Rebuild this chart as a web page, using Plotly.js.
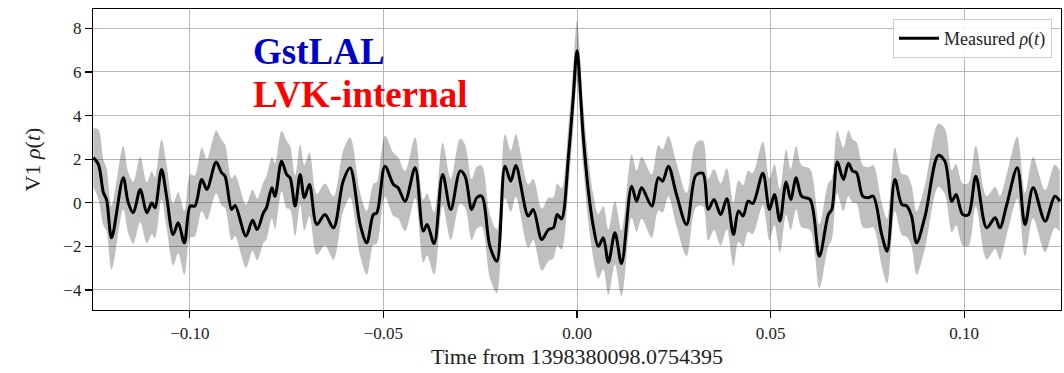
<!DOCTYPE html>
<html>
<head>
<meta charset="utf-8">
<script src="https://cdn.plot.ly/plotly-3.0.1.min.js"></script>
<style>html,body{margin:0;padding:0;background:#fff;}#chart{width:1064px;height:373px;}</style>
</head>
<body>
<div id="chart"></div>
<script>
// Time from 1398380098.0754395 (s)
const timeOffsets = [
-0.1249,-0.1236,-0.1223,-0.1215,-0.1202,-0.1172,-0.1159,-0.1146,-0.1128,-0.1111,
-0.1098,-0.1090,-0.1073,-0.1060,-0.1043,-0.1030,-0.1014,-0.0999,-0.0987,-0.0969,
-0.0956,-0.0932,-0.0918,-0.0909,-0.0892,-0.0883,-0.0855,-0.0838,-0.0826,-0.0810,
-0.0802,-0.0788,-0.0780,-0.0763,-0.0750,-0.0741,-0.0728,-0.0715,-0.0704,-0.0691,
-0.0672,-0.0651,-0.0629,-0.0604,-0.0586,-0.0560,-0.0543,-0.0526,-0.0517,-0.0496,
-0.0474,-0.0462,-0.0444,-0.0418,-0.0397,-0.0387,-0.0369,-0.0347,-0.0326,-0.0302,
-0.0289,-0.0272,-0.0259,-0.0246,-0.0225,-0.0207,-0.0186,-0.0171,-0.0158,-0.0126,
-0.0113,-0.0091,-0.0074,-0.0061,-0.0051,-0.0040,-0.0022,-0.0010,0.0000,0.0016,
0.0029,0.0042,0.0055,0.0068,0.0081,0.0098,0.0115,0.0141,0.0154,0.0167,
0.0193,0.0210,0.0221,0.0236,0.0257,0.0283,0.0307,0.0325,0.0339,0.0354,
0.0371,0.0387,0.0404,0.0417,0.0429,0.0442,0.0454,0.0480,0.0497,0.0510,
0.0524,0.0540,0.0552,0.0566,0.0580,0.0602,0.0626,0.0649,0.0658,0.0672,
0.0688,0.0701,0.0712,0.0722,0.0738,0.0752,0.0765,0.0787,0.0801,0.0821,
0.0839,0.0852,0.0864,0.0877,0.0899,0.0933,0.0950,0.0968,0.0979,0.0996,
0.1011,0.1030,0.1058,0.1080,0.1092,0.1110,0.1137,0.1157,0.1178,0.1209,
0.1234,0.1247
];
// Measured rho(t)
const measuredRho = [
2.07,1.76,0.46,0.15,-1.61,1.15,0.00,-0.46,0.61,-0.46,
0.00,-0.23,1.53,0.30,-1.46,-0.92,-1.84,-0.15,-0.15,1.07,
0.61,1.87,1.38,1.22,-0.31,-0.12,-1.53,-0.80,-1.23,-0.46,
-0.23,0.69,0.30,1.91,1.30,1.15,-0.15,1.30,0.23,0.84,
-1.00,-0.54,-1.15,0.99,1.61,-1.00,-1.84,-0.54,-0.46,1.68,
0.84,0.69,0.07,1.61,-1.30,-1.00,-1.87,1.30,-0.31,1.45,
1.22,-0.31,0.23,0.30,-2.00,-2.68,1.68,0.99,1.71,-0.61,
-0.31,-1.69,-1.23,-1.15,-0.54,-0.74,2.14,4.75,6.97,3.06,
0.61,-1.07,-2.00,-1.61,-2.73,-1.38,-2.79,0.76,0.07,0.69,
-0.15,1.15,0.99,1.68,0.38,-1.00,1.26,1.35,-0.31,0.15,
-0.54,0.18,-1.46,-0.38,-0.61,0.07,-0.03,1.35,-0.31,0.38,
-0.84,0.95,0.15,1.15,0.30,0.15,-2.45,-0.54,-0.31,1.87,
1.07,1.81,1.45,1.38,0.30,0.23,0.30,-1.46,-2.22,1.07,
-0.08,-0.15,-0.61,-1.84,-0.61,2.17,1.91,0.07,0.38,-0.54,
-0.54,1.22,-1.15,-0.69,-1.15,-0.08,1.61,-1.00,0.69,-0.84,
0.30,0.07
];
// half-width of the grey uncertainty band
const bandHalfWidth = [
1.35,1.60,1.50,1.45,1.46,1.45,1.40,1.42,1.50,1.40,
1.45,1.40,1.38,1.45,1.42,1.40,1.46,1.45,1.40,1.45,
1.40,1.43,1.50,1.45,1.42,1.40,1.45,1.40,1.42,1.40,
1.45,1.40,1.50,1.38,1.55,1.45,1.40,1.38,1.50,1.45,
1.40,1.42,1.45,1.40,1.38,1.45,1.46,1.40,1.42,1.40,
1.45,1.40,1.38,1.40,1.45,1.42,1.43,1.45,1.40,1.50,
1.45,1.40,1.42,1.40,1.45,1.46,1.46,1.40,1.43,1.45,
1.40,1.42,1.45,1.40,1.42,1.40,1.40,1.40,1.38,1.42,
1.45,1.45,1.48,1.45,1.50,1.45,1.50,1.45,1.40,1.42,
1.45,1.50,1.45,1.38,1.45,1.45,1.48,1.50,1.42,1.40,
1.42,1.40,1.45,1.40,1.42,1.40,1.40,1.45,1.42,1.40,
1.45,1.50,1.40,1.45,1.42,1.40,1.46,1.45,1.40,1.43,
1.45,1.50,1.45,1.40,1.42,1.40,1.42,1.45,1.48,1.45,
1.40,1.42,1.40,1.46,1.45,1.45,1.50,1.42,1.40,1.42,
1.45,1.40,1.45,1.42,1.45,1.40,1.43,1.45,1.40,1.42,
1.45,1.40
];
const xTickVals = [-0.10, -0.05, 0.00, 0.05, 0.10];
const xTickText = ['\u22120.10', '\u22120.05', '0.00', '0.05', '0.10'];
const yTickVals = [-4, -2, 0, 2, 4, 6, 8];
const yTickText = ['\u22124', '\u22122', '0', '2', '4', '6', '8'];

const lower = measuredRho.map((v, i) => v - bandHalfWidth[i]);
const upper = measuredRho.map((v, i) => v + bandHalfWidth[i]);

const serif = 'Liberation Serif, Times New Roman, serif';
const smooth = 0.9;

const traces = [
  {x: timeOffsets, y: lower, type: 'scatter', mode: 'lines',
   line: {width: 0, shape: 'spline', smoothing: smooth}, showlegend: false, hoverinfo: 'skip'},
  {x: timeOffsets, y: upper, type: 'scatter', mode: 'lines', fill: 'tonexty',
   fillcolor: 'rgba(0,0,0,0.25)',
   line: {width: 0, shape: 'spline', smoothing: smooth}, showlegend: false, hoverinfo: 'skip'},
  {x: timeOffsets, y: measuredRho, type: 'scatter', mode: 'lines',
   name: 'Measured <i>\u03c1</i>(<i>t</i>)',
   line: {color: '#000000', width: 3, shape: 'spline', smoothing: smooth}}
];

const axisCommon = {
  showline: true, linecolor: '#000', linewidth: 1.2, mirror: true,
  ticks: 'outside', ticklen: 7, tickwidth: 1.1, tickcolor: '#000',
  showgrid: true, gridcolor: '#b8b8b8', gridwidth: 1, zeroline: false,
  tickfont: {family: serif, size: 17, color: '#222'}
};

const layout = {
  width: 1064, height: 373,
  margin: {l: 93, r: 3, t: 9, b: 63},
  paper_bgcolor: '#fff', plot_bgcolor: '#fff',
  xaxis: Object.assign({}, axisCommon, {
    range: [-0.125, 0.125], tickmode: 'array', tickvals: xTickVals, ticktext: xTickText,
    title: {text: 'Time from 1398380098.0754395', font: {family: serif, size: 22, color: '#222'}, standoff: 7}
  }),
  yaxis: Object.assign({}, axisCommon, {
    range: [-4.92, 8.89], tickmode: 'array', tickvals: yTickVals, ticktext: yTickText,
    title: {text: 'V1 <i>\u03c1</i>(<i>t</i>)', font: {family: serif, size: 22, color: '#222'}, standoff: 16}
  }),
  showlegend: true,
  legend: {
    x: 0.9907, y: 0.967, xanchor: 'right', yanchor: 'top',
    bgcolor: 'rgba(255,255,255,0.85)', bordercolor: '#cccccc', borderwidth: 1,
    font: {family: serif, size: 18, color: '#222'}, itemwidth: 40
  },
  annotations: [
    {xref: 'paper', yref: 'paper', x: 0.163, y: 0.86, xanchor: 'left', yanchor: 'middle',
     text: '<b>GstLAL</b>', showarrow: false,
     font: {family: serif, size: 37, color: '#0000cc'}},
    {xref: 'paper', yref: 'paper', x: 0.163, y: 0.7176, xanchor: 'left', yanchor: 'middle',
     text: '<b>LVK-internal</b>', showarrow: false,
     font: {family: serif, size: 37, color: '#ff0000'}}
  ]
};

Plotly.newPlot('chart', traces, layout, {displayModeBar: false, staticPlot: true});
</script>
</body>
</html>
